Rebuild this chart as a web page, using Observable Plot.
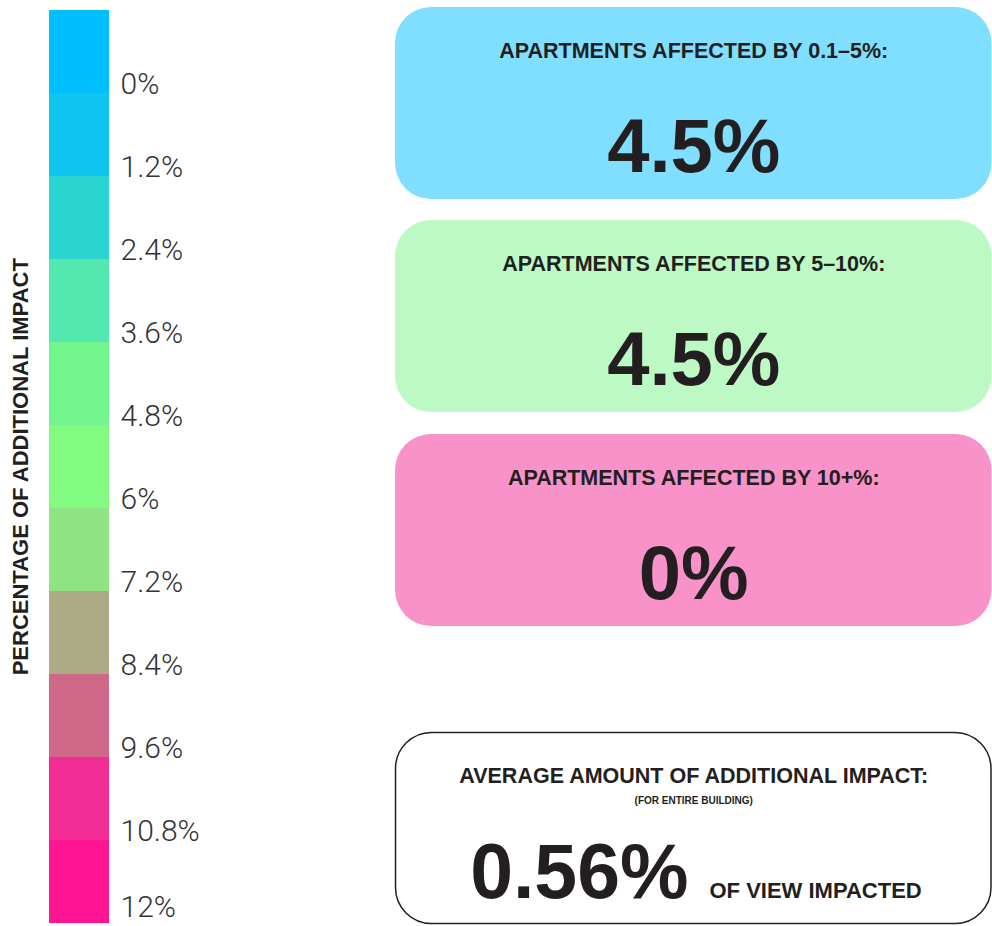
<!DOCTYPE html>
<html>
<head>
<meta charset="utf-8">
<script src="https://cdn.jsdelivr.net/npm/d3@7"></script>
<script src="https://cdn.jsdelivr.net/npm/@observablehq/plot@0.6"></script>
<style>
  html, body { margin: 0; padding: 0; background: #ffffff; }
  #wrap { display: flex; width: 992px; height: 926px; overflow: hidden; }
  #wrap svg { display: block; flex: none; }
</style>
</head>
<body>
<div id="wrap"></div>
<script>
// ---------- data ----------
const scaleLabels = ["0%", "1.2%", "2.4%", "3.6%", "4.8%", "6%", "7.2%", "8.4%", "9.6%", "10.8%", "12%"];
const scaleColors = ["#00BFFF", "#0FC4EF", "#2AD4D0", "#52E8AF", "#72F58D", "#83FB80", "#8FE383", "#ADAA86", "#D0688A", "#F22E96", "#FF1494"];
const axisTitle = "PERCENTAGE OF ADDITIONAL IMPACT";

const panelHeaders = ["APARTMENTS AFFECTED BY 0.1–5%:", "APARTMENTS AFFECTED BY 5–10%:", "APARTMENTS AFFECTED BY 10+%:"];
const panelValues = [4.5, 4.5, 0];
const panelFills = ["#80DEFE", "#BCF9C4", "#F892C8"];

const avgHeader = "AVERAGE AMOUNT OF ADDITIONAL IMPACT:";
const avgSubheader = "(FOR ENTIRE BUILDING)";
const avgValue = 0.56;
const avgUnit = "OF VIEW IMPACTED";

// ---------- layout (positions/styles, not data) ----------
const W = 992, H = 926;
const leftW = 390, rightW = W - leftW;
const barLeft = 49, barRight = 109, barTop = 7, barBottom = 925.5;
const panelTops = [7, 220, 434];
const panelH = 192;
const avgTop = 732.5, avgBottom = 923.5;
const panelX1 = 5, panelX2 = rightW - 0.5;
const panelCx = (panelX1 + panelX2) / 2;
const ink = "#231F20";
const FONT = "'Liberation Sans', Arial, Helvetica, sans-serif";

// ---------- left: colour scale ----------
const legendRows = scaleLabels.map((label, i) => ({label, i}));
const lastIndex = scaleLabels.length - 1;
const bandHalf = (barBottom - barTop) / scaleLabels.length / 2;
const labelStyle = {
  y: "label", text: "label",
  frameAnchor: "right", textAnchor: "start", lineAnchor: "bottom",
  dx: 11,
  fontFamily: "Roboto, " + FONT, fontWeight: 300, fontSize: 30, fill: "#333333"
};

const left = Plot.plot({
  width: leftW,
  height: H,
  marginTop: barTop,
  marginBottom: H - barBottom,
  marginLeft: barLeft,
  marginRight: leftW - barRight,
  style: {background: "transparent", fontFamily: FONT, overflow: "visible"},
  x: {domain: [0, 1], axis: null},
  y: {type: "band", domain: scaleLabels, padding: 0, axis: null},
  color: {type: "ordinal", domain: scaleLabels, range: scaleColors},
  marks: [
    Plot.barX(legendRows, {y: "label", x1: 0, x2: 1, fill: "label"}),
    Plot.text(legendRows.filter(d => d.i < lastIndex), {...labelStyle, dy: bandHalf}),
    // last label nudged up just enough to stay inside the page
    Plot.text(legendRows.filter(d => d.i === lastIndex), {...labelStyle, dy: bandHalf - 7}),
    Plot.text([axisTitle], {
      text: d => d,
      frameAnchor: "left", rotate: -90, lineAnchor: "middle", textAnchor: "middle",
      dx: 20.5 - barLeft,
      fontFamily: FONT, fontWeight: "bold", fontSize: 22, fill: ink
    })
  ]
});

// ---------- right: panels ----------
const panels = panelHeaders.map((header, i) => ({
  header,
  value: panelValues[i],
  fill: panelFills[i],
  top: panelTops[i]
}));
const avg = [{header: avgHeader, sub: avgSubheader, value: avgValue, unit: avgUnit}];

const right = Plot.plot({
  width: rightW,
  height: H,
  margin: 0,
  style: {background: "transparent", fontFamily: FONT, overflow: "visible"},
  x: {type: "linear", domain: [0, rightW], range: [0, rightW], axis: null},
  y: {type: "linear", domain: [0, H], range: [0, H], axis: null},
  marks: [
    Plot.rect(panels, {
      x1: () => panelX1, x2: () => panelX2,
      y1: d => d.top, y2: d => d.top + panelH,
      fill: d => d.fill, rx: 36, ry: 36
    }),
    Plot.text(panels, {
      x: () => panelCx, y: d => d.top + 50, text: "header",
      textAnchor: "middle", lineAnchor: "bottom",
      fontFamily: FONT, fontWeight: "bold", fontSize: 21.5, fill: ink
    }),
    Plot.text(panels, {
      x: () => panelCx, y: d => d.top + 164, text: d => `${d.value}%`,
      textAnchor: "middle", lineAnchor: "bottom",
      fontFamily: FONT, fontWeight: "bold", fontSize: 76, fill: ink
    }),
    Plot.rect(avg, {
      x1: () => panelX1 + 0.5, x2: () => panelX2 - 0.5,
      y1: () => avgTop, y2: () => avgBottom,
      fill: "#ffffff", stroke: ink, strokeWidth: 1.5, rx: 36, ry: 36
    }),
    Plot.text(avg, {
      x: () => panelCx, y: () => avgTop + 50, text: "header",
      textAnchor: "middle", lineAnchor: "bottom",
      fontFamily: FONT, fontWeight: "bold", fontSize: 21.5, fill: ink
    }),
    Plot.text(avg, {
      x: () => panelCx, y: () => avgTop + 71, text: "sub",
      textAnchor: "middle", lineAnchor: "bottom",
      fontFamily: FONT, fontWeight: "bold", fontSize: 10, fill: ink
    }),
    Plot.text(avg, {
      x: () => 298, y: () => avgTop + 165, text: d => `${d.value}%`,
      textAnchor: "end", lineAnchor: "bottom",
      fontFamily: FONT, fontWeight: "bold", fontSize: 77, fill: ink
    }),
    Plot.text(avg, {
      x: () => 319, y: () => avgTop + 165, text: "unit",
      textAnchor: "start", lineAnchor: "bottom",
      fontFamily: FONT, fontWeight: "bold", fontSize: 22, fill: ink
    })
  ]
});

const wrap = document.getElementById("wrap");
wrap.appendChild(left);
wrap.appendChild(right);
</script>
</body>
</html>
